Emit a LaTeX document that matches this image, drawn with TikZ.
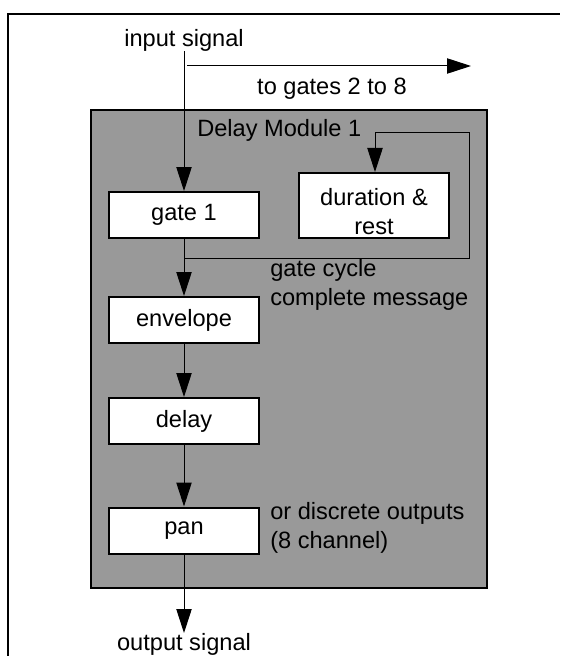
\documentclass[tikz,border=0pt]{standalone}
\usepackage{fontspec}
\setmainfont{Liberation Sans}
\usepackage{xcolor}
\usepackage{tikz}
\usetikzlibrary{arrows.meta, positioning}
\definecolor{modgray}{RGB}{153,153,153}
\tikzset{
  blk/.style ={rectangle, draw, line width=1.5pt, fill=white, align=center, inner sep=0pt, font=\txt},
  lbl/.style ={align=left, inner sep=0pt, font=\txt},
  fl/.style  ={-{Triangle[length=18pt, width=11.5pt]}, line width=0.75pt},
  ln/.style  ={line width=0.75pt},
}
\newcommand{\txt}{\fontsize{17.7}{21.8}\selectfont}

\begin{document}
\begin{tikzpicture}[x=0.75pt, y=-0.75pt,
    gatebox/.style={blk, minimum width=112.5pt, minimum height=34.5pt},
    durbox/.style={blk, minimum width=112.5pt, minimum height=48.75pt}
]
\useasboundingbox (0,0) rectangle (560,656);

% outer frame (only top and left edges show)
\draw[line width=1.6pt] (8,656) -- (8,14) -- (560,14);

% grey module
\draw[line width=2pt, fill=modgray] (91,110) rectangle (487,588);
\node[lbl, anchor=base west] (modname) at (197,137) {Delay Module 1};

% blocks
\node[gatebox] (gate1) at (184,215) {gate 1};
\node[durbox] (dur) at (374,205.5) {\rule{0pt}{21.5pt}duration \&\\rest};
\node[gatebox] (env) at (184,320) {envelope};
\node[gatebox] (delay) at (184,421) {delay};
\node[gatebox] (pan) at (184,530.5) {pan};

% texts
\node[lbl] (insig) at (184,40) {input signal};
\node[lbl] (togates) at (332,89) {to gates 2 to 8};
\node[lbl, anchor=west] (cyc) at (270,284.5) {gate cycle\\complete message};
\node[lbl, anchor=west] (disc) at (270,528) {or discrete outputs\\(8 channel)};
\node[lbl, anchor=north] (outsig) at (184,633) {output signal};

% connectors
\coordinate (tap) at (187,66);
\coordinate (tapend) at (471,66);
\coordinate (junc) at (184,258);
\coordinate (fbr) at (469,258);
\coordinate (fbt) at (469,133);
\coordinate (fbl) at (375,133);

\draw[fl] (insig.south) -- (gate1.north);
\draw[fl] (tap) -- (tapend);
\draw[fl] (gate1.south) -- (env.north);
\draw[ln] (junc) -- (fbr) -- (fbt) -- (fbl);
\draw[fl] (fbl) -- (dur.north -| fbl);
\draw[fl] (env.south) -- (delay.north);
\draw[fl] (delay.south) -- (pan.north);
\draw[fl] (pan.south) -- (outsig.north);

\end{tikzpicture}
\end{document}
